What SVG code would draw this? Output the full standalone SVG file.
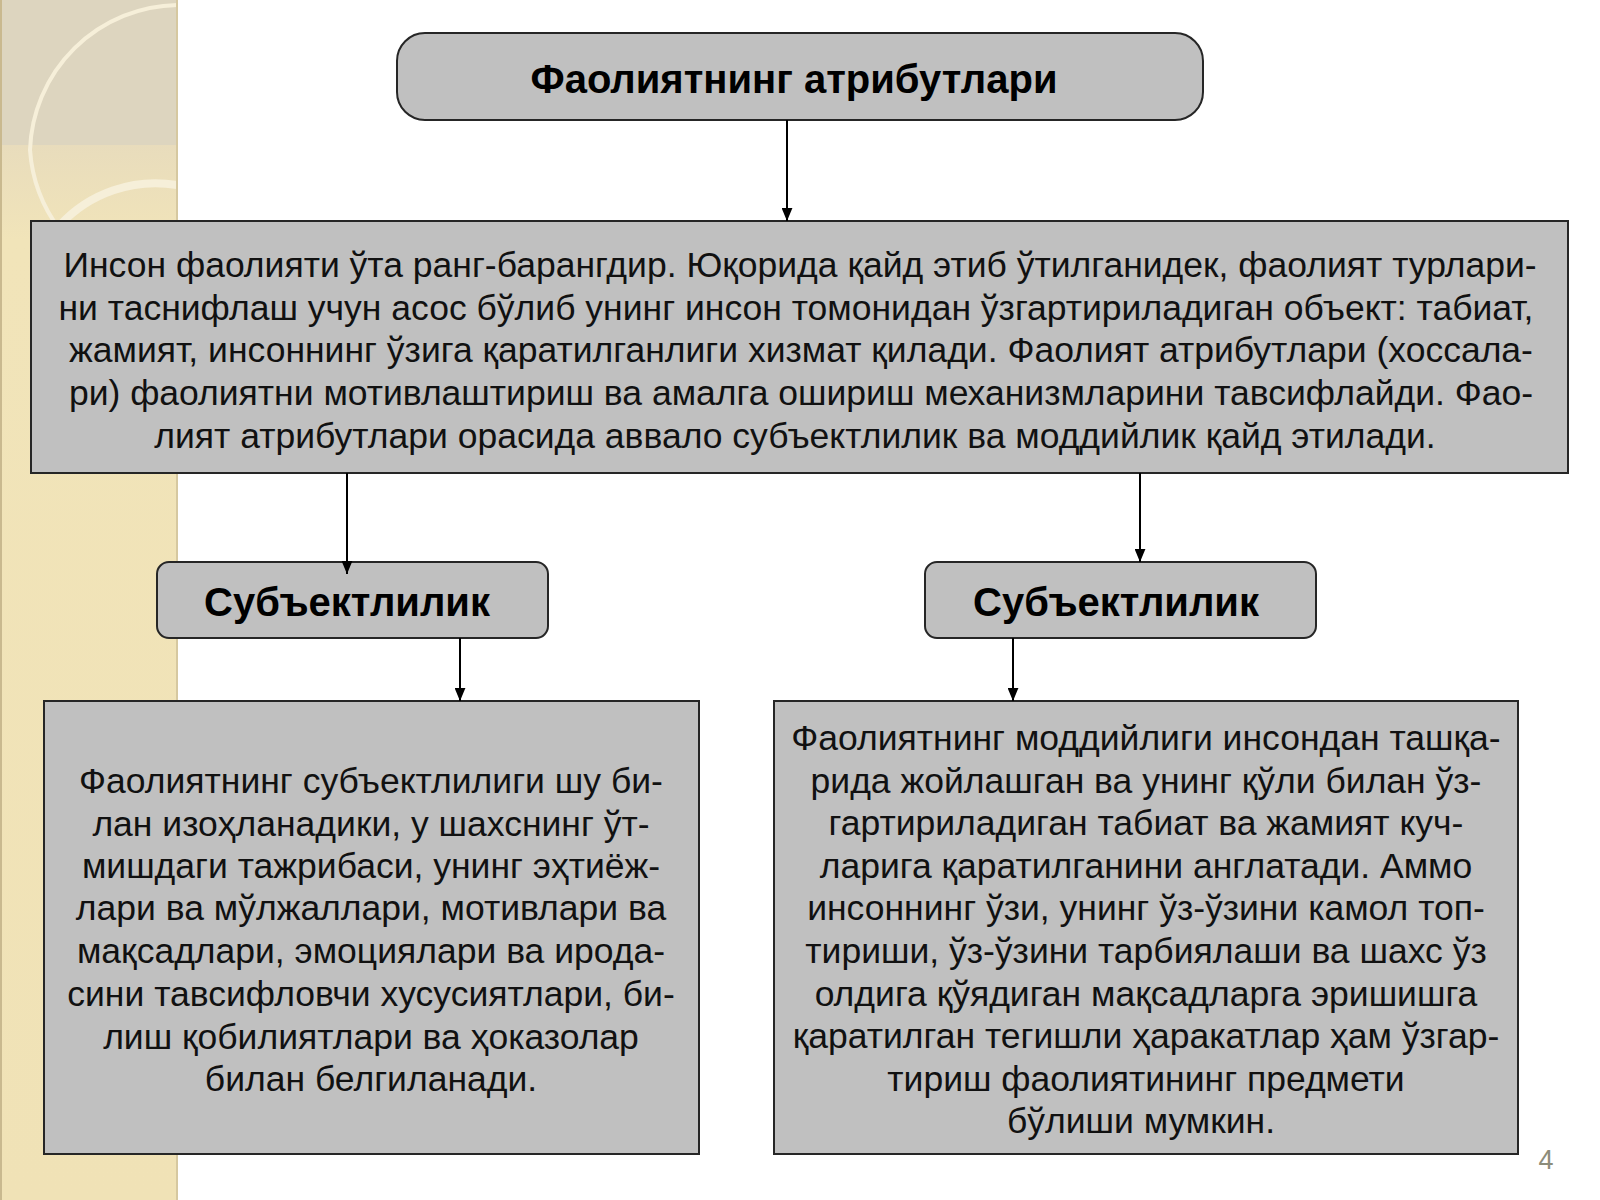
<svg xmlns="http://www.w3.org/2000/svg" width="1600" height="1200" viewBox="0 0 1600 1200">
<defs>
<style>
.box{fill:#c0c0c0;stroke:#262626;stroke-width:2}
.t{font-family:"Liberation Sans",Arial,sans-serif;font-size:35.5px;fill:#111;text-anchor:middle}
.h{font-family:"Liberation Sans",Arial,sans-serif;font-weight:bold;fill:#000;text-anchor:middle}
.c{stroke:#000;stroke-width:2;fill:none}
</style>
<marker id="ah" viewBox="0 0 12 10" refX="12" refY="5" markerWidth="13" markerHeight="11" markerUnits="userSpaceOnUse" orient="auto">
<path d="M0,0 L12,5 L0,10 Z" fill="#000"/>
</marker>
<linearGradient id="strip" x1="0" y1="0" x2="0" y2="1">
<stop offset="0" stop-color="#e2d9c2"/>
<stop offset="0.12" stop-color="#e8dcbc"/>
<stop offset="0.2" stop-color="#f1e4b9"/>
<stop offset="1" stop-color="#f0e2b6"/>
</linearGradient>
</defs>
<rect width="1600" height="1200" fill="#ffffff"/>
<g id="decor">
<rect x="0" y="0" width="177" height="1200" fill="url(#strip)"/>
<rect x="0" y="0" width="177" height="145" fill="#ddd5bf"/>
<path d="M177,5 A150,150 0 0 0 30,150 A150,150 0 0 0 60,230" fill="none" stroke="#f6efd9" stroke-width="4"/>
<path d="M60,225 A130,130 0 0 1 177,185" fill="none" stroke="#f6efd9" stroke-width="8"/>
<line x1="177" y1="0" x2="177" y2="1200" stroke="#d6c8a0" stroke-width="2"/>
<line x1="1" y1="0" x2="1" y2="1200" stroke="#c9b98f" stroke-width="2"/>
</g>
<g id="title">
<rect class="box" x="397" y="33" width="806" height="87" rx="28" ry="28"/>
<text class="h" x="794" y="93" font-size="40">Фаолиятнинг атрибутлари</text>
</g>
<g id="intro">
<rect class="box" x="31" y="221" width="1537" height="252"/>
<text class="t" x="800" y="277">Инсон фаолияти ўта ранг-барангдир. Юқорида қайд этиб ўтилганидек, фаолият турлари-</text>
<text class="t" x="796" y="320">ни таснифлаш учун асос бўлиб унинг инсон томонидан ўзгартириладиган объект: табиат,</text>
<text class="t" x="801" y="362">жамият, инсоннинг ўзига қаратилганлиги хизмат қилади. Фаолият атрибутлари (хоссала-</text>
<text class="t" x="801" y="405">ри) фаолиятни мотивлаштириш ва амалга ошириш механизмларини тавсифлайди. Фао-</text>
<text class="t" x="795" y="448">лият атрибутлари орасида аввало субъектлилик ва моддийлик қайд этилади.</text>
</g>
<g id="subj-left">
<rect class="box" x="157" y="562" width="391" height="76" rx="12" ry="12"/>
<text class="h" x="347" y="616" font-size="40">Субъектлилик</text>
</g>
<g id="subj-right">
<rect class="box" x="925" y="562" width="391" height="76" rx="12" ry="12"/>
<text class="h" x="1116" y="616" font-size="40">Субъектлилик</text>
</g>
<g id="text-left">
<rect class="box" x="44" y="701" width="655" height="453"/>
<text class="t" x="371" y="793">Фаолиятнинг субъектлилиги шу би-</text>
<text class="t" x="371" y="836">лан изоҳланадики, у шахснинг ўт-</text>
<text class="t" x="371" y="878">мишдаги тажрибаси, унинг эҳтиёж-</text>
<text class="t" x="371" y="920">лари ва мўлжаллари, мотивлари ва</text>
<text class="t" x="371" y="963">мақсадлари, эмоциялари ва ирода-</text>
<text class="t" x="371" y="1006">сини тавсифловчи хусусиятлари, би-</text>
<text class="t" x="371" y="1049">лиш қобилиятлари ва ҳоказолар</text>
<text class="t" x="371" y="1091">билан белгиланади.</text>
</g>
<g id="text-right">
<rect class="box" x="774" y="701" width="744" height="453"/>
<text class="t" x="1146" y="750">Фаолиятнинг моддийлиги инсондан ташқа-</text>
<text class="t" x="1146" y="793">рида жойлашган ва унинг қўли билан ўз-</text>
<text class="t" x="1146" y="835">гартириладиган табиат ва жамият куч-</text>
<text class="t" x="1146" y="878">ларига қаратилганини англатади. Аммо</text>
<text class="t" x="1146" y="920">инсоннинг ўзи, унинг ўз-ўзини камол топ-</text>
<text class="t" x="1146" y="963">тириши, ўз-ўзини тарбиялаши ва шахс ўз</text>
<text class="t" x="1146" y="1006">олдига қўядиган мақсадларга эришишга</text>
<text class="t" x="1146" y="1048">қаратилган тегишли ҳаракатлар ҳам ўзгар-</text>
<text class="t" x="1146" y="1091">тириш фаолиятининг предмети</text>
<text class="t" x="1141" y="1133">бўлиши мумкин.</text>
</g>
<g id="connectors">
<line class="c" x1="787" y1="120" x2="787" y2="221" marker-end="url(#ah)"/>
<line class="c" x1="347" y1="473" x2="347" y2="574" marker-end="url(#ah)"/>
<line class="c" x1="1140" y1="473" x2="1140" y2="562" marker-end="url(#ah)"/>
<line class="c" x1="460" y1="638" x2="460" y2="701" marker-end="url(#ah)"/>
<line class="c" x1="1013" y1="638" x2="1013" y2="701" marker-end="url(#ah)"/>
</g>
<text x="1546" y="1169" font-family="Liberation Sans,Arial,sans-serif" font-size="27" fill="#8c8c7a" text-anchor="middle">4</text>
</svg>
